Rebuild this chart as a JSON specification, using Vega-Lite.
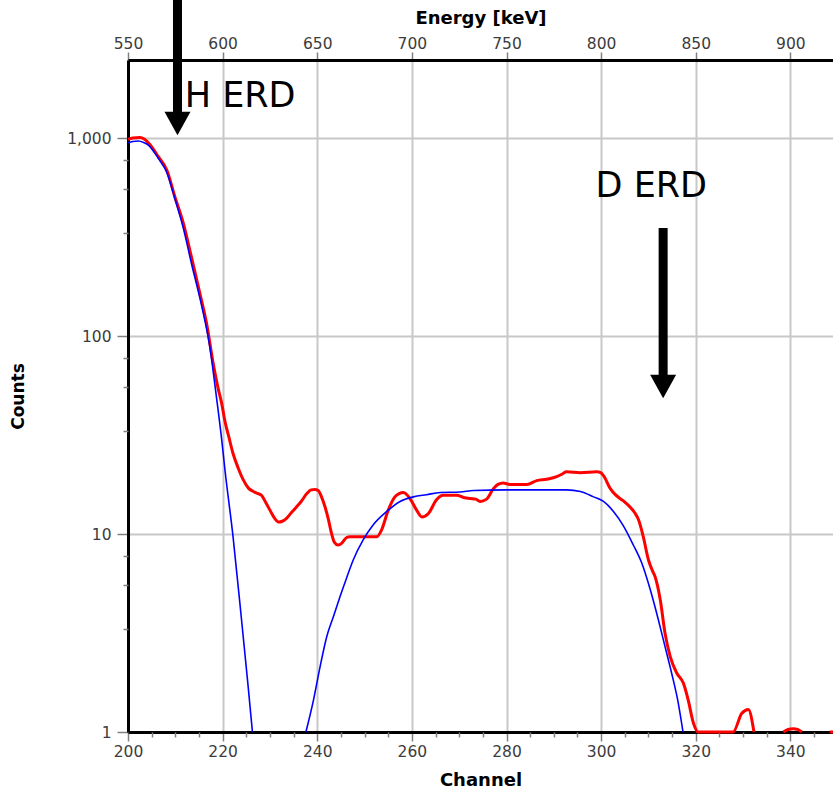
{
  "$schema": "https://vega.github.io/schema/vega-lite/v6.json",
  "width": 705,
  "height": 672,
  "autosize": "none",
  "padding": {"left": 128, "top": 60, "right": 0, "bottom": 61},
  "background": "white",
  "config": {"view": {"stroke": null}, "font": "DejaVu Sans"},
  "datasets": {
    "measured": [
      {"channel": 200, "counts": 985}, {"channel": 201, "counts": 1000}, {"channel": 202.5, "counts": 1005},
      {"channel": 203.5, "counts": 985}, {"channel": 204.7, "counts": 922}, {"channel": 206.4, "counts": 805},
      {"channel": 208.2, "counts": 689}, {"channel": 209.9, "counts": 505}, {"channel": 211.7, "counts": 371},
      {"channel": 213.4, "counts": 251}, {"channel": 215.2, "counts": 164}, {"channel": 216.6, "counts": 116},
      {"channel": 218.0, "counts": 72.8}, {"channel": 219.0, "counts": 55}, {"channel": 219.8, "counts": 45.7},
      {"channel": 220.5, "counts": 37}, {"channel": 221.3, "counts": 31}, {"channel": 222.2, "counts": 25.5},
      {"channel": 223.3, "counts": 21.5}, {"channel": 224.4, "counts": 18.7}, {"channel": 225.5, "counts": 17.0},
      {"channel": 226.5, "counts": 16.4}, {"channel": 227.5, "counts": 16.0}, {"channel": 228.2, "counts": 15.7},
      {"channel": 229.2, "counts": 14.3}, {"channel": 230.0, "counts": 13.2}, {"channel": 231.0, "counts": 12.0},
      {"channel": 231.8, "counts": 11.5}, {"channel": 232.6, "counts": 11.6}, {"channel": 233.5, "counts": 12.0},
      {"channel": 234.5, "counts": 12.8}, {"channel": 235.6, "counts": 13.7}, {"channel": 236.6, "counts": 14.6},
      {"channel": 237.8, "counts": 16.0}, {"channel": 238.7, "counts": 16.7}, {"channel": 239.5, "counts": 16.8},
      {"channel": 240.2, "counts": 16.6}, {"channel": 240.9, "counts": 15.4}, {"channel": 241.6, "counts": 13.8},
      {"channel": 242.3, "counts": 12.0}, {"channel": 243.0, "counts": 10.1}, {"channel": 243.6, "counts": 9.1},
      {"channel": 244.4, "counts": 8.8}, {"channel": 245.2, "counts": 9.0}, {"channel": 246.2, "counts": 9.6},
      {"channel": 246.9, "counts": 9.69}, {"channel": 249.7, "counts": 9.69}, {"channel": 252.6, "counts": 9.69},
      {"channel": 253.6, "counts": 10.5}, {"channel": 255.0, "counts": 13.2}, {"channel": 256.4, "counts": 15.4},
      {"channel": 257.3, "counts": 16.0}, {"channel": 258.2, "counts": 16.2}, {"channel": 259.6, "counts": 15.1},
      {"channel": 261.0, "counts": 13.2}, {"channel": 262.1, "counts": 12.2}, {"channel": 263.5, "counts": 12.7},
      {"channel": 265.2, "counts": 14.9}, {"channel": 266.6, "counts": 15.7}, {"channel": 269.5, "counts": 15.7},
      {"channel": 270.9, "counts": 15.3}, {"channel": 272.3, "counts": 15.1}, {"channel": 273.5, "counts": 15.0},
      {"channel": 274.4, "counts": 14.6}, {"channel": 275.8, "counts": 15.0}, {"channel": 277.2, "counts": 16.9},
      {"channel": 278.2, "counts": 17.8}, {"channel": 279.3, "counts": 18.1}, {"channel": 280.7, "counts": 17.8},
      {"channel": 284.3, "counts": 17.8}, {"channel": 286.4, "counts": 18.6}, {"channel": 288.5, "counts": 18.9},
      {"channel": 290.6, "counts": 19.5}, {"channel": 291.8, "counts": 20.1}, {"channel": 292.7, "counts": 20.6},
      {"channel": 295.6, "counts": 20.4}, {"channel": 299.1, "counts": 20.6}, {"channel": 299.9, "counts": 20.4},
      {"channel": 300.5, "counts": 19.7}, {"channel": 301.9, "counts": 17.0}, {"channel": 303.0, "counts": 15.8},
      {"channel": 304.0, "counts": 15.1}, {"channel": 305.0, "counts": 14.5}, {"channel": 306.1, "counts": 13.7},
      {"channel": 307.1, "counts": 12.8}, {"channel": 307.9, "counts": 11.8}, {"channel": 308.9, "counts": 9.7},
      {"channel": 310.0, "counts": 7.39}, {"channel": 311.0, "counts": 6.4}, {"channel": 311.4, "counts": 6.08},
      {"channel": 312.5, "counts": 4.64}, {"channel": 313.5, "counts": 3.15}, {"channel": 314.6, "counts": 2.4},
      {"channel": 316.0, "counts": 1.98}, {"channel": 317.4, "counts": 1.76}, {"channel": 318.4, "counts": 1.45},
      {"channel": 319.5, "counts": 1.11}, {"channel": 320.5, "counts": 1.0}, {"channel": 327.9, "counts": 1.0},
      {"channel": 329.7, "counts": 1.24}, {"channel": 331.1, "counts": 1.3}, {"channel": 332.3, "counts": 1.0},
      {"channel": 335, "counts": null},
      {"channel": 338.5, "counts": 1.0}, {"channel": 339.5, "counts": 1.03}, {"channel": 340.6, "counts": 1.04},
      {"channel": 341.5, "counts": 1.03}, {"channel": 342.4, "counts": 1.0},
      {"channel": 345, "counts": null},
      {"channel": 348.3, "counts": 1.0}, {"channel": 349, "counts": 1.0}
    ],
    "simulated": [
      {"channel": 200, "counts": 947}, {"channel": 201, "counts": 960}, {"channel": 202.2, "counts": 966},
      {"channel": 203.3, "counts": 950}, {"channel": 204.3, "counts": 922}, {"channel": 206.4, "counts": 790},
      {"channel": 208.2, "counts": 670}, {"channel": 209.9, "counts": 495}, {"channel": 211.7, "counts": 350},
      {"channel": 213.4, "counts": 233}, {"channel": 215.6, "counts": 141}, {"channel": 217.3, "counts": 88},
      {"channel": 218.7, "counts": 49}, {"channel": 219.8, "counts": 30}, {"channel": 220.5, "counts": 21},
      {"channel": 222.2, "counts": 9.7}, {"channel": 224.0, "counts": 3.68}, {"channel": 225.4, "counts": 1.69},
      {"channel": 226.3, "counts": 1.0},
      {"channel": 231, "counts": null},
      {"channel": 237.6, "counts": 1.0}, {"channel": 239.2, "counts": 1.45}, {"channel": 240.6, "counts": 2.14},
      {"channel": 242.0, "counts": 3.03}, {"channel": 243.4, "counts": 3.82}, {"channel": 244.8, "counts": 4.82},
      {"channel": 246.2, "counts": 6.0}, {"channel": 247.6, "counts": 7.39}, {"channel": 249.7, "counts": 9.33},
      {"channel": 251.8, "counts": 11.1}, {"channel": 254.7, "counts": 13.0}, {"channel": 257.5, "counts": 14.6},
      {"channel": 260.3, "counts": 15.4}, {"channel": 263.1, "counts": 15.8}, {"channel": 266.0, "counts": 16.2},
      {"channel": 270.2, "counts": 16.3}, {"channel": 273.0, "counts": 16.6}, {"channel": 280.0, "counts": 16.7},
      {"channel": 292.7, "counts": 16.7}, {"channel": 295.6, "counts": 16.4}, {"channel": 298.4, "counts": 15.4},
      {"channel": 300.5, "counts": 14.6}, {"channel": 302.6, "counts": 13.0}, {"channel": 304.7, "counts": 11.0},
      {"channel": 306.8, "counts": 8.8}, {"channel": 308.6, "counts": 7.11}, {"channel": 310.4, "counts": 5.21},
      {"channel": 312.1, "counts": 3.68}, {"channel": 313.5, "counts": 2.7}, {"channel": 314.9, "counts": 1.98},
      {"channel": 316.3, "counts": 1.4}, {"channel": 317.3, "counts": 1.0}
    ],
    "arrows": [
      {"channel": 210.46, "top": 4977, "bottom": 1307, "head": 1184},
      {"channel": 313.1, "top": 351, "bottom": 61.4, "head": 55.6}
    ],
    "notes": [
      {"channel": 223.7, "counts": 1434, "label": "H ERD"},
      {"channel": 310.6, "counts": 504, "label": "D ERD"}
    ]
  },
  "layer": [
    {
      "data": {"name": "measured"},
      "mark": {"type": "line", "color": "#ff0000", "strokeWidth": 3, "interpolate": "monotone", "invalid": "break-paths-filter-domains"},
      "encoding": {
        "x": {
          "field": "channel", "type": "quantitative",
          "scale": {"domain": [200, 349], "nice": false, "zero": false},
          "axis": {
            "orient": "bottom", "title": "Channel", "values": [200, 220, 240, 260, 280, 300, 320, 340],
            "grid": true, "gridColor": "#c8c8c8", "gridWidth": 2,
            "domainColor": "#000000", "domainWidth": 3,
            "tickColor": "#808080", "tickSize": 9, "tickWidth": 1.5,
            "labelFont": "DejaVu Sans", "labelFontSize": 15.5, "labelColor": "#3c3c3c", "labelPadding": 3,
            "labelFlush": false, "labelOverlap": false,
            "titleFont": "DejaVu Sans", "titleFontSize": 18, "titleFontWeight": "bold", "titleColor": "#000000",
            "titleY": 48, "titleBaseline": "middle"
          }
        },
        "y": {
          "field": "counts", "type": "quantitative",
          "scale": {"type": "log", "domain": [1, 2478], "nice": false},
          "axis": {
            "orient": "left", "title": "Counts", "values": [1, 10, 100, 1000], "format": ",",
            "grid": true, "gridColor": "#c8c8c8", "gridWidth": 2,
            "domainColor": "#000000", "domainWidth": 3,
            "tickColor": "#808080", "tickSize": 11, "tickWidth": 1.5,
            "labelFont": "DejaVu Sans", "labelFontSize": 15.5, "labelColor": "#3c3c3c", "labelPadding": 6,
            "labelFlush": false, "labelOverlap": false,
            "titleFont": "DejaVu Sans", "titleFontSize": 17, "titleFontWeight": "bold", "titleColor": "#000000",
            "titleX": -110, "titleY": 336, "titleBaseline": "middle", "titleAngle": -90, "titleAlign": "center"
          }
        }
      }
    },
    {
      "data": {"name": "simulated"},
      "mark": {"type": "line", "color": "#0000ff", "strokeWidth": 1.6, "interpolate": "monotone", "invalid": "break-paths-filter-domains"},
      "encoding": {
        "x": {
          "field": "channel", "type": "quantitative",
          "scale": {"domain": [200, 349], "nice": false, "zero": false},
          "axis": {
            "orient": "top", "title": "Energy [keV]", "values": [200, 220, 240, 260, 280, 300, 320, 340],
            "labelExpr": "format(datum.value * 2.5 + 50, 'd')",
            "grid": false, "domainColor": "#000000", "domainWidth": 3,
            "tickColor": "#808080", "tickSize": 8, "tickWidth": 1.5,
            "labelFont": "DejaVu Sans", "labelFontSize": 15.5, "labelColor": "#3c3c3c", "labelPadding": 1,
            "labelFlush": false, "labelOverlap": false,
            "titleFont": "DejaVu Sans", "titleFontSize": 18, "titleFontWeight": "bold", "titleColor": "#000000",
            "titleY": -42, "titleBaseline": "middle"
          }
        },
        "y": {
          "field": "counts", "type": "quantitative",
          "scale": {"type": "log", "domain": [1, 2478], "nice": false},
          "axis": null
        }
      }
    },
    {
      "data": {"name": "arrows"},
      "mark": {"type": "rule", "color": "#000000", "strokeWidth": 9},
      "encoding": {
        "x": {"field": "channel", "type": "quantitative", "axis": null},
        "y": {"field": "top", "type": "quantitative", "axis": null},
        "y2": {"field": "bottom"}
      }
    },
    {
      "data": {"name": "arrows"},
      "mark": {"type": "point", "shape": "M-1,-0.9L1,-0.9L0,0.9Z", "filled": true, "color": "#000000", "opacity": 1, "size": 676},
      "encoding": {
        "x": {"field": "channel", "type": "quantitative", "axis": null},
        "y": {"field": "head", "type": "quantitative", "axis": null}
      }
    },
    {
      "data": {"name": "notes"},
      "mark": {"type": "text", "font": "DejaVu Sans", "fontSize": 35, "color": "#000000", "align": "center", "baseline": "alphabetic"},
      "encoding": {
        "x": {
          "field": "channel", "type": "quantitative",
          "axis": {
            "orient": "bottom", "values": [205, 210, 215, 225, 230, 235, 245, 250, 255, 265, 270, 275, 285, 290, 295, 305, 310, 315, 325, 330, 335, 345],
            "labels": false, "grid": false, "domain": false, "tickColor": "#808080", "tickSize": 5, "tickWidth": 1.5, "title": null
          }
        },
        "y": {
          "field": "counts", "type": "quantitative",
          "axis": {
            "orient": "left", "values": [3.3, 5.5, 7.7, 33, 55, 77, 330, 550, 775],
            "labels": false, "grid": false, "domain": false, "tickColor": "#808080", "tickSize": 5, "tickWidth": 1.5, "title": null
          }
        },
        "text": {"field": "label"}
      }
    }
  ],
  "resolve": {"axis": {"x": "independent", "y": "independent"}}
}
